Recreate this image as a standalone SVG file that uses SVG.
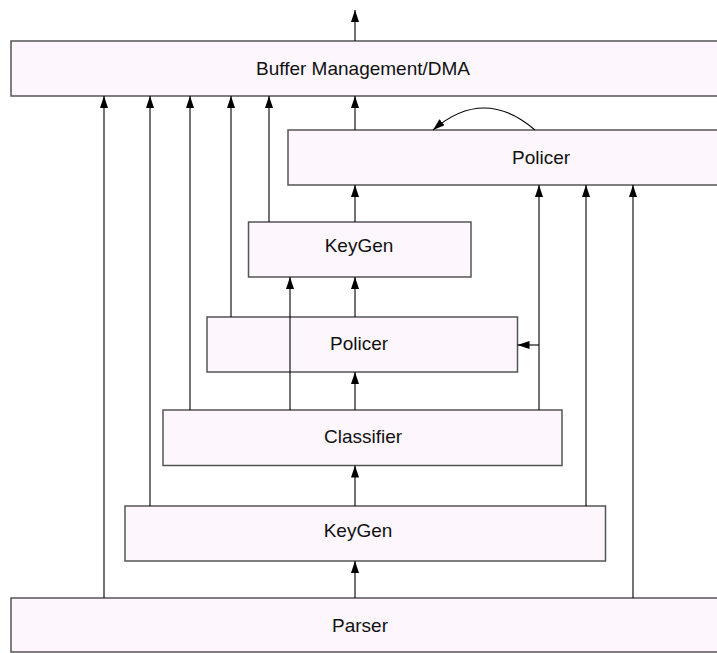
<svg xmlns="http://www.w3.org/2000/svg" width="717" height="653" viewBox="0 0 717 653">
<style>
.box{fill:#fdf6fd;stroke:#555;stroke-width:1.5}
.lbl{font-family:"Liberation Sans",Arial,sans-serif;font-size:19px;fill:#111;text-anchor:middle}
.c{fill:none;stroke:#000;stroke-width:1.1}
.a{marker-end:url(#ah)}
</style>
<defs>
<marker id="ah" markerUnits="userSpaceOnUse" markerWidth="13" markerHeight="9" refX="12" refY="4" orient="auto">
<path d="M0,0 L12,4 L0,8 z" fill="#000"/>
</marker>
</defs>
<rect width="717" height="653" fill="#fff"/>
<g id="buffer"><rect class="box" x="11" y="41" width="712" height="55"/><text class="lbl" x="363" y="75">Buffer Management/DMA</text></g>
<g id="policer-top"><rect class="box" x="288" y="130" width="435" height="55"/><text class="lbl" x="541" y="164">Policer</text></g>
<g id="keygen-upper"><rect class="box" x="248.5" y="222" width="222.5" height="55"/><text class="lbl" x="359" y="252">KeyGen</text></g>
<g id="policer-mid"><rect class="box" x="207" y="317" width="310.5" height="55"/><text class="lbl" x="359" y="350">Policer</text></g>
<g id="classifier"><rect class="box" x="163" y="410" width="399" height="55.5"/><text class="lbl" x="363" y="443">Classifier</text></g>
<g id="keygen-lower"><rect class="box" x="125" y="506" width="480.5" height="55"/><text class="lbl" x="358" y="537">KeyGen</text></g>
<g id="parser"><rect class="box" x="11" y="598" width="712" height="54"/><text class="lbl" x="360" y="632">Parser</text></g>
<g id="connectors">
<path class="c a" d="M355,41 V10"/>
<path class="c a" d="M104,598 V96"/>
<path class="c a" d="M150,506 V96"/>
<path class="c a" d="M190,410 V96"/>
<path class="c a" d="M231,317 V96"/>
<path class="c a" d="M269,222 V96"/>
<path class="c a" d="M355,130 V96"/>
<path class="c a" d="M355,222 V185"/>
<path class="c a" d="M355,317 V277"/>
<path class="c a" d="M290,410 V277"/>
<path class="c a" d="M355,410 V372"/>
<path class="c a" d="M355,506 V465.5"/>
<path class="c a" d="M355,598 V561"/>
<path class="c a" d="M539,410 V185"/>
<path class="c a" d="M539,345 H517.5"/>
<path class="c a" d="M586,506 V185"/>
<path class="c a" d="M633,598 V185"/>
<path class="c a" d="M535,130 Q484,86 433,130"/>
</g>
</svg>
